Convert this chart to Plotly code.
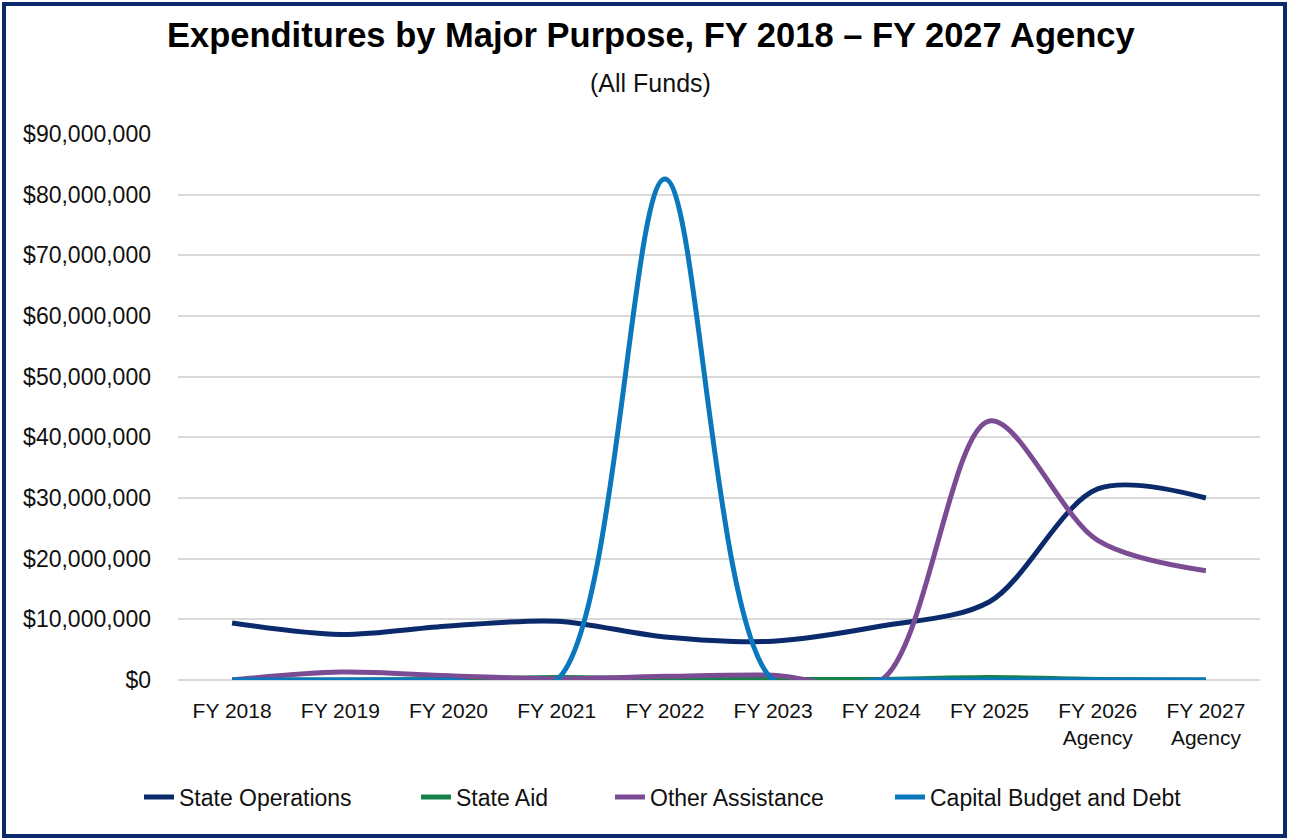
import plotly.graph_objects as go

categories = ["FY 2018", "FY 2019", "FY 2020", "FY 2021", "FY 2022", "FY 2023",
              "FY 2024", "FY 2025", "FY 2026<br>Agency", "FY 2027<br>Agency"]
state_operations = [9400000, 7500000, 8900000, 9700000, 7100000, 6400000, 8900000, 12900000, 31500000, 30000000]
state_aid = [0, 0, 100000, 400000, 200000, 100000, 100000, 400000, 100000, 0]
other_assistance = [0, 1300000, 700000, 200000, 600000, 800000, 0, 42700000, 23000000, 18000000]
capital_budget = [0, 0, 0, 0, 82600000, 0, 0, 0, 0, 0]

series = [
    ("State Operations", state_operations, "#0a2a6b"),
    ("State Aid", state_aid, "#16814a"),
    ("Other Assistance", other_assistance, "#7b4c93"),
    ("Capital Budget and Debt", capital_budget, "#0b77bd"),
]

W, H = 1289, 840
ml, mr, mt, mb = 178, 29, 134, 160
pw, ph = W - ml - mr, H - mt - mb

def px(x):
    return (x - ml) / pw

def py(y):
    return (H - mb - y) / ph

# legend text starts in reference (px)
legend_text_x = [179, 456, 650, 930]
legend_names = ["legend", "legend2", "legend3", "legend4"]

fig = go.Figure()
for (name, vals, col), lg in zip(series, legend_names):
    fig.add_trace(go.Scatter(
        x=categories, y=vals, name=name, mode="lines", legend=lg,
        line=dict(color=col, width=5, shape="spline", smoothing=0.9),
    ))

legends = {}
for lg, tx in zip(legend_names, legend_text_x):
    legends[lg] = dict(orientation="h", xref="container", yref="container",
                       x=(tx - 40) / W, xanchor="left",
                       y=1 - 797 / H, yanchor="middle",
                       font=dict(size=23, color="#111111"),
                       bgcolor="rgba(0,0,0,0)", borderwidth=0)

fig.update_layout(
    width=W, height=H,
    margin=dict(l=ml, r=mr, t=mt, b=mb, autoexpand=False),
    paper_bgcolor="white", plot_bgcolor="white",
    font=dict(family="Liberation Sans, Arial, sans-serif", size=20, color="#111111"),
    showlegend=True,
    xaxis=dict(type="category", range=[-0.5, 9.5], showgrid=False, showline=False,
               ticks="", tickfont=dict(size=21), ticklabelstandoff=16),
    yaxis=dict(range=[0, 90000000], dtick=10000000, tickprefix="$", tickformat=",",
               showgrid=True, gridcolor="#d9d9d9", gridwidth=1.5, zeroline=True,
               zerolinecolor="#d9d9d9", zerolinewidth=1.5, showline=False,
               tickfont=dict(size=23), ticklabelstandoff=26),
    annotations=[
        dict(text="<b>Expenditures by Major Purpose, FY 2018 – FY 2027 Agency</b>",
             xref="paper", yref="paper", x=px(651), y=py(35), xanchor="center",
             yanchor="middle", showarrow=False, font=dict(size=34.5, color="#000000")),
        dict(text="(All Funds)", xref="paper", yref="paper", x=px(650), y=py(83),
             xanchor="center", yanchor="middle", showarrow=False,
             font=dict(size=25, color="#111111")),
    ],
    shapes=[
        dict(type="rect", xref="paper", yref="paper",
             x0=px(4), x1=px(1285), y0=py(836), y1=py(4),
             line=dict(color="#0a2a6b", width=4), fillcolor="rgba(0,0,0,0)", layer="above"),
    ],
    **legends,
)

fig.write_html("out.html", config={"displayModeBar": False},
               post_script="document.body.style.margin='0';")
